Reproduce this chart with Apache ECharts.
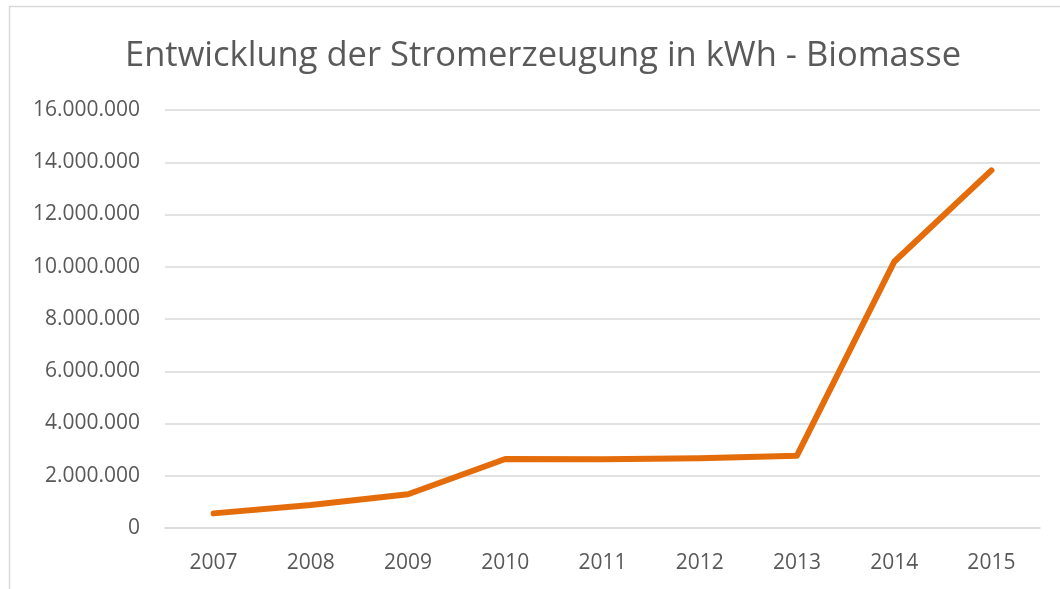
<!DOCTYPE html>
<html>
<head>
<meta charset="utf-8">
<script src="https://cdn.jsdelivr.net/npm/echarts@6/dist/echarts.min.js"></script>
<style>
  html, body { margin: 0; padding: 0; background: #fff; }
  #chart { width: 1060px; height: 589px; }
</style>
</head>
<body>
<div id="chart"></div>
<script>
const TITLE = 'Entwicklung der Stromerzeugung in kWh - Biomasse';
const years = ['2007', '2008', '2009', '2010', '2011', '2012', '2013', '2014', '2015'];
const biomasse = [560000, 880000, 1290000, 2640000, 2630000, 2670000, 2770000, 10190000, 13690000];

const TEXT_COLOR = '#595959';
const GRID_COLOR = '#d9d9d9';
const LINE_COLOR = '#e46c0a';
const FONT = '"Open Sans", sans-serif';

function formatGerman(value) {
  return String(Math.round(value)).replace(/\B(?=(\d{3})+(?!\d))/g, '.');
}

const chart = echarts.init(document.getElementById('chart'), null, { renderer: 'canvas' });

chart.setOption({
  animation: false,
  backgroundColor: '#fff',
  title: {
    text: TITLE,
    left: 120,
    top: 34,
    textStyle: {
      color: TEXT_COLOR,
      fontFamily: FONT,
      fontSize: 34.5,
      fontWeight: 'normal',
    },
  },
  graphic: [
    {
      type: 'rect',
      silent: true,
      shape: { x: 9.5, y: 6.5, width: 1100, height: 700 },
      style: { fill: 'none', stroke: GRID_COLOR, lineWidth: 1.5 },
    },
  ],
  grid: {
    left: 165,
    right: 20,
    top: 110,
    bottom: 61,
    containLabel: false,
  },
  xAxis: {
    type: 'category',
    data: years,
    boundaryGap: true,
    axisLine: { show: true, lineStyle: { color: GRID_COLOR, width: 1.5 } },
    axisTick: { show: false },
    axisLabel: {
      color: TEXT_COLOR,
      fontFamily: FONT,
      fontSize: 21,
      margin: 25,
    },
  },
  yAxis: {
    type: 'value',
    min: 0,
    max: 16000000,
    interval: 2000000,
    axisLine: { show: false },
    axisTick: { show: false },
    axisLabel: {
      color: TEXT_COLOR,
      fontFamily: FONT,
      fontSize: 21,
      margin: 25,
      formatter: formatGerman,
    },
    splitLine: { show: true, lineStyle: { color: GRID_COLOR, width: 1.5 } },
  },
  series: [
    {
      name: 'Biomasse',
      type: 'line',
      data: biomasse,
      showSymbol: false,
      symbol: 'none',
      lineStyle: { color: LINE_COLOR, width: 6, cap: 'round', join: 'round' },
    },
  ],
});
</script>
</body>
</html>
